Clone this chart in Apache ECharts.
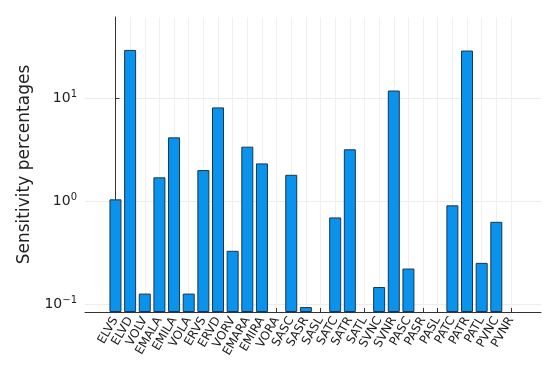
<!DOCTYPE html>
<html><head><meta charset="utf-8">
<script src="https://cdn.jsdelivr.net/npm/echarts@6/dist/echarts.min.js"></script>
<style>html,body{margin:0;padding:0;background:#fff}#c{width:550px;height:378px}</style>
</head><body><div id="c"></div>
<script>
var categories = ['ELVS','ELVD','VOLV','EMALA','EMILA','VOLA','ERVS','ERVD','VORV','EMARA','EMIRA','VORA',
  'SASC','SASR','SASL','SATC','SATR','SATL','SVNC','SVNR','PASC','PASR','PASL','PATC','PATR','PATL','PVNC','PVNR'];
var sensitivity = [1.04, 29.2, 0.127, 1.70, 4.15, 0.127, 2.0, 8.1, 0.33, 3.37, 2.32, null,
  1.80, 0.094, null, 0.695, 3.18, null, 0.147, 11.8, 0.222, null, null, 0.91, 28.8, 0.252, 0.63, null];
var yTicks = [0.1, 1, 10];
var yTickLabels = ['10{s|\u22121}', '10{s|0}', '10{s|1}'];

var chart = echarts.init(document.getElementById('c'), null, {renderer: 'canvas'});
var idx = categories.map(function (_, i) { return i; });
var font = 'DejaVu Sans';
var yMin = 0.0842, yMax = 60.9;
chart.setOption({
  animation: false,
  grid: {left: 85, right: 9, top: 17, bottom: 66, containLabel: false},
  xAxis: {
    type: 'value', min: -2.08, max: 29.05,
    axisLine: {show: true, onZero: false, lineStyle: {color: '#333', width: 1}},
    axisTick: {show: true, inside: true, length: 4, customValues: idx, lineStyle: {color: '#333'}},
    splitLine: {show: true, lineStyle: {color: '#f0f0f0', width: 1}},
    axisLabel: {
      customValues: idx, rotate: 60, margin: 6, color: '#1a1a1a', fontFamily: font, fontSize: 12,
      formatter: function (v) { return categories[Math.round(v)] || ''; }
    }
  },
  yAxis: {
    type: 'log', logBase: 10, min: yMin, max: yMax, startValue: yMin,
    name: 'Sensitivity percentages', nameLocation: 'middle', nameGap: 52, nameRotate: 90,
    nameTextStyle: {fontFamily: font, fontSize: 17, color: '#222'},
    axisLine: {show: true, lineStyle: {color: '#333', width: 1}},
    axisTick: {show: true, inside: true, length: 4, customValues: yTicks, lineStyle: {color: '#333'}},
    splitLine: {show: true, lineStyle: {color: '#ececec', width: 1}},
    axisLabel: {
      customValues: yTicks, margin: 8, color: '#222', fontFamily: font, fontSize: 14,
      formatter: function (v) {
        var i = yTicks.findIndex(function (t) { return Math.abs(t - v) / t < 1e-6; });
        return i >= 0 ? yTickLabels[i] : '';
      },
      rich: {s: {fontSize: 10, verticalAlign: 'top', padding: [0, 0, 8, 0], fontFamily: font, color: '#222'}}
    }
  },
  series: [{
    type: 'bar',
    barWidth: 12,
    data: idx.map(function (i) { return [i, sensitivity[i]]; }),
    itemStyle: {color: '#0993ec', borderColor: '#1b3550', borderWidth: 1}
  }]
});
</script></body></html>
